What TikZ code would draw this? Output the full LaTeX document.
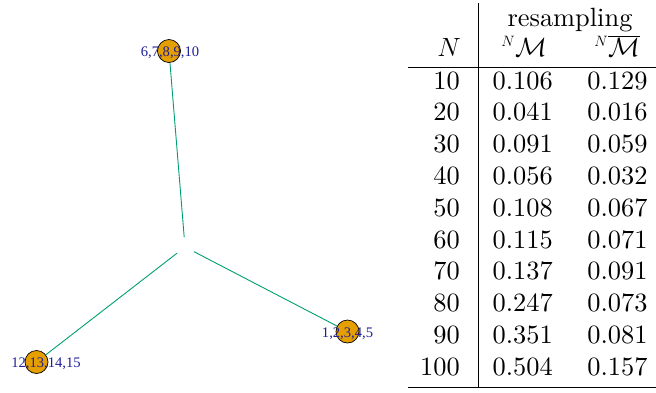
\RequirePackage{fix-cm}
\documentclass[tikz,border=0pt]{standalone}
\usepackage{fontspec}
\setmainfont{lmroman10-regular}[Extension=.otf]
\newfontfamily\labfont{Liberation Serif}
\DeclareMathSizes{26.4}{26.4}{15}{10}
\definecolor{dotorange}{HTML}{E69F00}
\definecolor{edgegreen}{HTML}{009E73}
\definecolor{labblue}{rgb}{0.12,0.12,0.6}
\begin{document}
\begin{tikzpicture}[x=1pt,y=-1pt,
  dot/.style={circle,draw=black,line width=0.7pt,fill=dotorange,minimum size=23pt,inner sep=0pt},
  lab/.style={anchor=base,text=labblue,font=\labfont\fontsize{14.6}{16}\selectfont,inner sep=0pt},
  edge/.style={draw=edgegreen,line width=0.9pt,shorten <=10pt},
  cell/.style={anchor=base,inner sep=0pt,font=\fontsize{26.4}{31.7}\selectfont},
  ncell/.style={cell,anchor=base east},
  rule/.style={line width=0.9pt}]
\useasboundingbox (0,0) rectangle (656,392);
% graph
\coordinate (c) at (185,247);
\node[dot] (a) at (169,51) {};
\node[dot] (b) at (36.5,362) {};
\node[dot] (d) at (347.5,331.5) {};
\draw[edge] (c) -- (a);
\draw[edge] (c) -- (b);
\draw[edge] (c) -- (d);
\node[lab] (la) at (170,56.5) {6,7,8,9,10};
\node[lab] (lb) at (46,367) {12,13,14,15};
\node[lab] (ld) at (347.5,337.5) {1,2,3,4,5};
% table
\coordinate (vt) at (478,3);
\coordinate (vb) at (478,387);
\coordinate (r1l) at (408,67);
\coordinate (r1r) at (656,67);
\coordinate (r2l) at (408,387);
\coordinate (r2r) at (656,387);
\draw[rule] (vt) -- (vb);
\draw[rule] (r1l) -- (r1r);
\draw[rule] (r2l) -- (r2r);
\node[cell] (hres) at (570,26) {resampling};
\node[ncell] (hN) at (461,56) {$N$};
\node[cell,anchor=base east] (hM) at (547,56) {${}^{N}\mathcal{M}$};
\node[cell,anchor=base east] (hMb) at (640,56) {${}^{N}\overline{\mathcal{M}}$};
\foreach \n/\p/\q [count=\i from 0] in {10/0.106/0.129,20/0.041/0.016,30/0.091/0.059,40/0.056/0.032,50/0.108/0.067,60/0.115/0.071,70/0.137/0.091,80/0.247/0.073,90/0.351/0.081,100/0.504/0.157}{
  \node[ncell] (n\i) at (460,89+31.8*\i) {\n};
  \node[cell] (p\i) at (522.7,89+31.8*\i) {\p};
  \node[cell] (q\i) at (617.5,89+31.8*\i) {\q};
}
\end{tikzpicture}
\end{document}
